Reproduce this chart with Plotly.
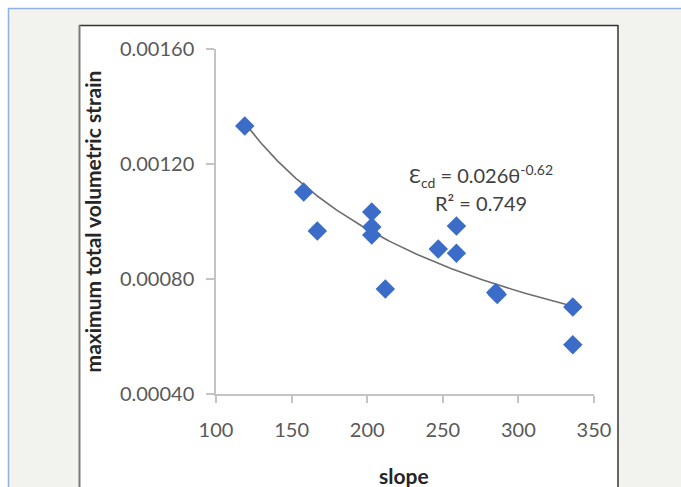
import numpy as np
import plotly.graph_objects as go

# Measured slope vs. maximum total volumetric strain
slope = [119, 158, 167, 203, 203, 203, 212, 247, 259, 259, 285, 286, 336, 336]
strain = [0.001332, 0.001103, 0.000967, 0.001033, 0.000981, 0.000953, 0.000765,
          0.000904, 0.000890, 0.000984, 0.000753, 0.000746, 0.000703, 0.000571]

# Power-law fit reported on the chart: strain = a * slope^b
fit_a = 0.026
fit_b = -0.62
fit_r2 = 0.749

x_ticks = [100, 150, 200, 250, 300, 350]
y_ticks = [0.0004, 0.0008, 0.0012, 0.0016]
y_tick_text = ["0.00040", "0.00080", "0.00120", "0.00160"]

W, H = 681, 487
ML, MR, MT, MB = 216, 87, 49, 93
PW, PH = W - ML - MR, H - MT - MB


def px(xp):
    return (xp - ML) / PW


def py(yp):
    return (H - MB - yp) / PH


fit_x = np.linspace(min(slope), max(slope), 200)
fit_y = fit_a * fit_x ** fit_b

fig = go.Figure()
fig.add_trace(go.Scatter(
    x=fit_x, y=fit_y, mode="lines",
    line=dict(color="#6e6e6e", width=1.6),
    hoverinfo="skip", showlegend=False,
))
fig.add_trace(go.Scatter(
    x=slope, y=strain, mode="markers",
    marker=dict(symbol="diamond", size=15, color="#3b6cc8"),
    showlegend=False,
))

font = "Lato, 'Open Sans', sans-serif"
shapes = [
    # page background with its thin blue frame
    dict(type="rect", xref="paper", yref="paper",
         x0=px(8), x1=px(W + 5), y0=py(H + 5), y1=py(8),
         fillcolor="#f2f2ee", line=dict(width=0), layer="below"),
    dict(type="line", xref="paper", yref="paper",
         x0=px(8), x1=px(W + 5), y0=py(8.5), y1=py(8.5),
         line=dict(color="#8fb2e0", width=1.5), layer="below"),
    dict(type="line", xref="paper", yref="paper",
         x0=px(8.5), x1=px(8.5), y0=py(8), y1=py(H + 5),
         line=dict(color="#8fb2e0", width=1.5), layer="below"),
    # white chart panel
    dict(type="rect", xref="paper", yref="paper",
         x0=px(79), x1=px(618), y0=py(H + 5), y1=py(25),
         fillcolor="white", line=dict(width=0), layer="below"),
    dict(type="line", xref="paper", yref="paper",
         x0=px(79), x1=px(618), y0=py(25.5), y1=py(25.5),
         line=dict(color="#333333", width=1.5), layer="below"),
    dict(type="line", xref="paper", yref="paper",
         x0=px(79.5), x1=px(79.5), y0=py(25), y1=py(H + 5),
         line=dict(color="#7a7a7a", width=2), layer="below"),
    dict(type="line", xref="paper", yref="paper",
         x0=px(618), x1=px(618), y0=py(25), y1=py(H + 5),
         line=dict(color="#333333", width=1.5), layer="below"),
]

annotations = [
    dict(xref="paper", yref="paper", x=px(481), y=py(176),
         text="Ɛ<sub>cd</sub> = 0.026θ<sup>-0.62</sup>", showarrow=False,
         font=dict(family=font, size=20, color="#404040"),
         xanchor="center", yanchor="middle"),
    dict(xref="paper", yref="paper", x=px(481), y=py(203),
         text=f"R² = {fit_r2}", showarrow=False,
         font=dict(family=font, size=20, color="#404040"),
         xanchor="center", yanchor="middle"),
    dict(xref="paper", yref="paper", x=px(404), y=py(475),
         text="<b>slope</b>", showarrow=False,
         font=dict(family=font, size=21, color="#262626"),
         xanchor="center", yanchor="middle"),
]

fig.update_layout(
    width=W, height=H,
    margin=dict(l=ML, r=MR, t=MT, b=MB, pad=0),
    paper_bgcolor="white", plot_bgcolor="rgba(0,0,0,0)",
    shapes=shapes, annotations=annotations,
    font=dict(family=font, color="#595959"),
    xaxis=dict(
        range=[100, 350], tickvals=x_ticks, showgrid=False, zeroline=False,
        showline=True, linecolor="#c4c4c4", linewidth=1.5,
        ticks="outside", ticklen=7, tickcolor="#c4c4c4", tickwidth=1.5,
        tickfont=dict(family=font, size=20, color="#595959"),
        ticklabelstandoff=10,
    ),
    yaxis=dict(
        range=[0.0004, 0.0016], tickvals=y_ticks, ticktext=y_tick_text,
        showgrid=False, zeroline=False,
        showline=True, linecolor="#c4c4c4", linewidth=1.5,
        ticks="outside", ticklen=8, tickcolor="#c4c4c4", tickwidth=1.5,
        tickfont=dict(family=font, size=20, color="#595959"),
        ticklabelstandoff=8,
        title=dict(text="<b>maximum total volumetric strain</b>",
                   font=dict(family=font, size=21, color="#262626"),
                   standoff=13),
    ),
)

fig.write_html("out.html")
